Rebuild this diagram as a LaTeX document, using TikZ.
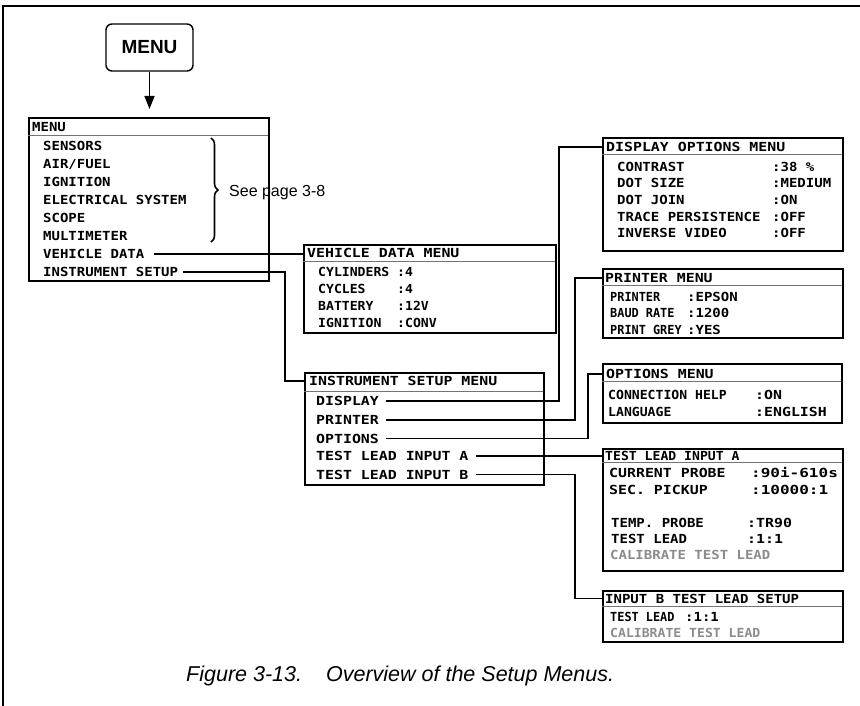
\documentclass[tikz,border=0pt]{standalone}
\usepackage{fontspec}
\usepackage{graphicx}
\setmainfont{Liberation Sans}
\newfontfamily\scrmono{DejaVu Sans Mono Bold}
\newsavebox\hsbox
\def\curSX{1.12}
\usetikzlibrary{arrows.meta,decorations.pathreplacing}
\tikzset{
  sx/.code={\def\curSX{#1}},
  menubox/.style={draw, line width=2.2pt, inner sep=0pt, anchor=north west},
  itm/.style={inner sep=0pt, anchor=west, font=\scrmono\fontsize{12.5}{14}\selectfont, text height=9pt, text depth=0pt, sx=1.12,
    execute at begin node={\begin{lrbox}{\hsbox}},
    execute at end node={\end{lrbox}\scalebox{\curSX}[1]{\usebox{\hsbox}}}},
  fA/.style={sx=0.95},
  fB/.style={sx=1.0},
  fC/.style={sx=1.05},
  fD/.style={sx=1.12},
  fE/.style={sx=1.19},
  fF/.style={sx=1.28},
  gitm/.style={itm, text=black!45},
  conn/.style={line width=1.8pt},
  sepl/.style={line width=0.8pt, draw=black!55},
  btn/.style={draw, rounded corners=6pt, line width=1.4pt, minimum width=87pt, minimum height=47pt, inner sep=0pt, font=\fontsize{19}{21}\selectfont\bfseries},
  arr/.style={line width=1.5pt, -{Triangle[length=13pt,width=10pt]}},
  plain/.style={inner sep=0pt, anchor=west, font=\fontsize{16}{18}\selectfont, text height=11.5pt, text depth=0pt},
}
\begin{document}
\begin{tikzpicture}[x=1pt,y=-1pt]
\useasboundingbox (0,0) rectangle (860,706);
% frame
\draw[line width=1.3pt] (3,706) -- (3,6) -- (860,6);

% MENU button
\node[btn] (menubtn) at (149.5,47.5) {MENU};

% main menu
\node[menubox, minimum width=240pt, minimum height=163pt] (mbox) at (28,117) {};
\draw[arr, shorten >=8pt] (menubtn.south) -- (menubtn.south |- mbox.north);
\node[itm] (mtitle) at (32,127.5) {MENU};
\draw[sepl] (28,135) -- (268,135);
\node[itm] (msens) at (43,146) {SENSORS};
\node[itm] (mair) at (43,164) {AIR/FUEL};
\node[itm] (mign) at (43,182) {IGNITION};
\node[itm] (melec) at (43,200) {ELECTRICAL SYSTEM};
\node[itm] (mscope) at (43,218) {SCOPE};
\node[itm] (mmulti) at (43,236) {MULTIMETER};
\node[itm] (mvd) at (43,254) {VEHICLE DATA};
\node[itm] (mis) at (43,272) {INSTRUMENT SETUP};
\draw[line width=1.6pt, decorate, decoration={brace, amplitude=7pt}] (211,138) -- (211,242);
\node[plain] (seepage) at (229,191) {See page 3-8};

% vehicle data menu
\node[menubox, minimum width=252pt, minimum height=88pt] (vdbox) at (303,244) {};
\node[itm, fE] (vdtitle) at (307,253) {VEHICLE DATA MENU};
\draw[sepl] (303,261) -- (555,261);
\node[itm, fC] (vdcyl) at (318,271.5) {CYLINDERS};
\node[itm, fC] (vdcylv) at (397,271.5) {:4};
\node[itm, fC] (vdcyc) at (318,289) {CYCLES};
\node[itm, fC] (vdcycv) at (397,289) {:4};
\node[itm, fC] (vdbat) at (318,306) {BATTERY};
\node[itm, fC] (vdbatv) at (397,306) {:12V};
\node[itm, fC] (vdign) at (318,323) {IGNITION};
\node[itm, fC] (vdignv) at (397,323) {:CONV};

% instrument setup menu
\node[menubox, minimum width=239pt, minimum height=112pt] (isbox) at (304,372) {};
\node[itm, fE] (istitle) at (309,381) {INSTRUMENT SETUP MENU};
\draw[sepl] (304,391.5) -- (543,391.5);
\node[itm, fE] (isdisp) at (316,401) {DISPLAY};
\node[itm, fE] (isprn) at (316,420) {PRINTER};
\node[itm, fE] (isopt) at (316,438.5) {OPTIONS};
\node[itm, fE] (istla) at (316,456) {TEST LEAD INPUT A};
\node[itm, fE] (istlb) at (316,474.5) {TEST LEAD INPUT B};

% display options menu
\node[menubox, minimum width=240pt, minimum height=113pt] (dobox) at (602,137) {};
\node[itm, fE] (dotitle) at (606,147) {DISPLAY OPTIONS MENU};
\draw[sepl] (602,154) -- (842,154);
\node[itm] (doc) at (617,167) {CONTRAST};
\node[itm] (docv) at (772,167) {:38 \%};
\node[itm] (dos) at (617,183.5) {DOT SIZE};
\node[itm] (dosv) at (772,183.5) {:MEDIUM};
\node[itm] (doj) at (617,200) {DOT JOIN};
\node[itm] (dojv) at (772,200) {:ON};
\node[itm] (dot) at (617,217) {TRACE PERSISTENCE};
\node[itm] (dotv) at (772,217) {:OFF};
\node[itm] (doi) at (617,233) {INVERSE VIDEO};
\node[itm] (doiv) at (772,233) {:OFF};

% printer menu
\node[menubox, minimum width=240pt, minimum height=69pt] (pmbox) at (602,268) {};
\node[itm, fE] (pmtitle) at (605,278) {PRINTER MENU};
\draw[sepl] (602,285) -- (842,285);
\node[itm, fA] (pmp) at (610,297) {PRINTER};
\node[itm] (pmpv) at (687,297) {:EPSON};
\node[itm, fA] (pmb) at (610,313) {BAUD RATE};
\node[itm] (pmbv) at (687,313) {:1200};
\node[itm, fA] (pmg) at (610,329.5) {PRINT GREY};
\node[itm] (pmgv) at (687,329.5) {:YES};

% options menu
\node[menubox, minimum width=239pt, minimum height=59pt] (ombox) at (602,363) {};
\node[itm, fE] (omtitle) at (606,374) {OPTIONS MENU};
\draw[sepl] (602,381) -- (841,381);
\node[itm, fC] (omc) at (608,395) {CONNECTION HELP};
\node[itm, fE] (omcv) at (755,395) {:ON};
\node[itm, fC] (oml) at (608,412) {LANGUAGE};
\node[itm, fE] (omlv) at (755,412) {:ENGLISH};

% test lead input A
\node[menubox, minimum width=240pt, minimum height=122pt] (tabox) at (602,448) {};
\node[itm, fC] (tatitle) at (605,456) {TEST LEAD INPUT A};
\draw[sepl] (602,462.5) -- (842,462.5);
\node[itm, fE] (tacp) at (609,473) {CURRENT PROBE};
\node[itm, fF] (tacpv) at (751,473) {:90i-610s};
\node[itm, fE] (tasp) at (609,490) {SEC. PICKUP};
\node[itm, fF] (taspv) at (751,490) {:10000:1};
\node[itm] (tatp) at (611,523) {TEMP. PROBE};
\node[itm, fE] (tatpv) at (747,523) {:TR90};
\node[itm] (tatl) at (611,539) {TEST LEAD};
\node[itm, fE] (tatlv) at (747,539) {:1:1};
\node[gitm] (tacal) at (610,555) {CALIBRATE TEST LEAD};

% input B test lead setup
\node[menubox, minimum width=240pt, minimum height=51pt] (tbbox) at (602,590) {};
\node[itm] (tbtitle) at (605,598.5) {INPUT B TEST LEAD SETUP};
\draw[sepl] (602,606) -- (842,606);
\node[itm, fA] (tbtl) at (610,617) {TEST LEAD};
\node[itm] (tbtlv) at (685,617) {:1:1};
\node[gitm, fC] (tbcal) at (610,633) {CALIBRATE TEST LEAD};

% connectors
\coordinate (jis) at (285,0);
\coordinate (jd) at (559,0);
\coordinate (jp) at (575,0);
\coordinate (jo) at (588,0);
\coordinate (jb) at (575,0);
\draw[conn] ([xshift=9pt]mvd.east) -- (mvd -| vdbox.west);
\draw[conn] ([xshift=5pt]mis.east) -| (jis |- istitle) -- (istitle -| isbox.west);
\draw[conn] ([xshift=7pt]isdisp.east) -| (jd |- dotitle) -- (dotitle -| dobox.west);
\draw[conn] ([xshift=7pt]isprn.east) -| (jp |- pmtitle) -- (pmtitle -| pmbox.west);
\draw[conn] ([xshift=7pt]isopt.east) -| (jo |- omtitle) -- (omtitle -| ombox.west);
\draw[conn] ([xshift=7pt]istla.east) -- (istla -| tabox.west);
\draw[conn] ([xshift=7pt]istlb.east) -| (jb |- tbtitle) -- (tbtitle -| tbbox.west);

% caption
\node[inner sep=0pt, anchor=base west, font=\fontsize{21.5}{24}\selectfont\itshape] (caption) at (186,681) {Figure 3-13.\hspace{24pt}Overview of the Setup Menus.};
\end{tikzpicture}
\end{document}
